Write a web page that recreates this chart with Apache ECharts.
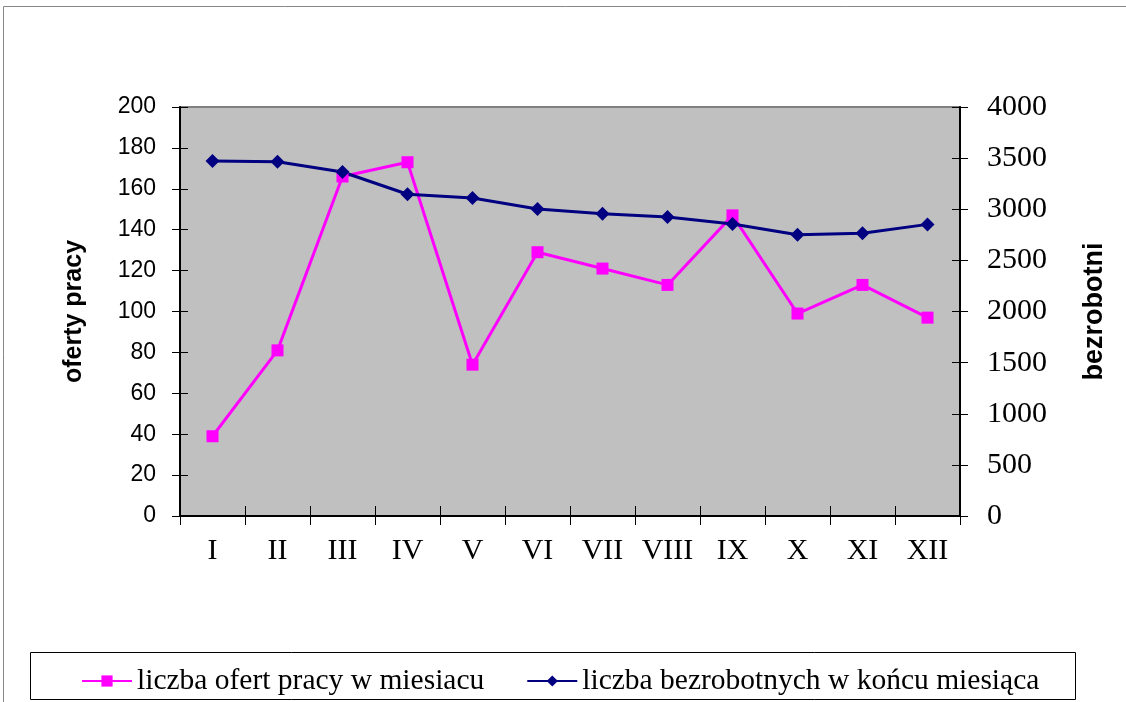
<!DOCTYPE html>
<html>
<head>
<meta charset="utf-8">
<script src="https://cdn.jsdelivr.net/npm/echarts@6/dist/echarts.min.js"></script>
<style>
html,body{margin:0;padding:0;background:#fff;}
#chart{width:1126px;height:702px;}
</style>
</head>
<body>
<div id="chart"></div>
<script>
const categories = ['I','II','III','IV','V','VI','VII','VIII','IX','X','XI','XII'];
const ofertyPracy = [39, 81, 166, 173, 74, 129, 121, 113, 147, 99, 113, 97];
const bezrobotni = [3472, 3465, 3364, 3147, 3110, 3002, 2955, 2924, 2856, 2750, 2765, 2852];
const leftTicks = {min: 0, max: 200, interval: 20};
const rightTicks = {min: 0, max: 4000, interval: 500};
const seriesNames = ['liczba ofert pracy w miesiacu', 'liczba bezrobotnych w końcu miesiąca'];
const axisNames = ['oferty pracy', 'bezrobotni'];

const chart = echarts.init(document.getElementById('chart'));
const serif = '"Liberation Serif","Times New Roman",serif';
const sans = '"Liberation Sans",Arial,sans-serif';

const tickStyle = {color: '#000', width: 1};
function dupY(pos, t) {
  return {
    type: 'value', position: pos, min: t.min, max: t.max, interval: t.interval,
    axisLine: {show: false}, axisLabel: {show: false}, splitLine: {show: false},
    axisTick: {show: true, inside: true, length: 8, lineStyle: tickStyle}
  };
}

chart.setOption({
  animation: false,
  backgroundColor: '#fff',
  graphic: [
    {type: 'rect', shape: {x: 3.5, y: 6.5, width: 1140, height: 720}, style: {fill: 'none', stroke: '#888', lineWidth: 1}, silent: true, z: -10},
    {type: 'rect', shape: {x: 30.5, y: 652.5, width: 1045, height: 47}, style: {fill: '#fff', stroke: '#000', lineWidth: 1}, silent: true, z: -5}
  ],
  grid: {
    left: 180, right: 166, top: 107, bottom: 186,
    show: true, backgroundColor: '#C0C0C0', borderColor: '#808080', borderWidth: 2
  },
  legend: {
    left: 76, top: 661,
    itemWidth: 50, itemHeight: 14, itemGap: 42,
    textStyle: {fontFamily: serif, fontSize: 29.5, color: '#000'},
    data: seriesNames
  },
  xAxis: [
    {
      type: 'category', data: categories, position: 'bottom', boundaryGap: true,
      axisLine: {onZero: false, lineStyle: {color: '#000', width: 2}},
      axisTick: {show: true, length: 9, interval: 0, lineStyle: tickStyle},
      axisLabel: {fontFamily: serif, fontSize: 30, color: '#000', margin: 20, interval: 0},
      splitLine: {show: false}
    },
    {
      type: 'category', data: categories, position: 'bottom', boundaryGap: true,
      axisLine: {show: false, onZero: false}, axisLabel: {show: false}, splitLine: {show: false},
      axisTick: {show: true, inside: true, length: 10, interval: 0, lineStyle: tickStyle}
    }
  ],
  yAxis: [
    {
      type: 'value', position: 'left', min: leftTicks.min, max: leftTicks.max, interval: leftTicks.interval,
      name: axisNames[0], nameLocation: 'middle', nameRotate: 90, nameGap: 93,
      nameTextStyle: {fontFamily: sans, fontSize: 25, fontWeight: 'bold', color: '#000'},
      axisLine: {show: true, lineStyle: {color: '#000', width: 2}},
      axisTick: {show: true, length: 8, lineStyle: tickStyle},
      axisLabel: {fontFamily: sans, fontSize: 23, color: '#000', margin: 24},
      splitLine: {show: false}
    },
    {
      type: 'value', position: 'right', min: rightTicks.min, max: rightTicks.max, interval: rightTicks.interval,
      name: axisNames[1], nameLocation: 'middle', nameRotate: 90, nameGap: 121,
      nameTextStyle: {fontFamily: sans, fontSize: 27, fontWeight: 'bold', color: '#000'},
      axisLine: {show: true, lineStyle: {color: '#000', width: 2}},
      axisTick: {show: true, length: 8, lineStyle: tickStyle},
      axisLabel: {fontFamily: serif, fontSize: 30, color: '#000', margin: 27, formatter: v => String(v)},
      splitLine: {show: false}
    },
    dupY('left', leftTicks),
    dupY('right', rightTicks)
  ],
  series: [
    {
      name: seriesNames[0], type: 'line', data: ofertyPracy, xAxisIndex: 0, yAxisIndex: 0,
      symbol: 'rect', symbolSize: 12,
      lineStyle: {color: '#FF00FF', width: 3}, itemStyle: {color: '#FF00FF'}
    },
    {
      name: seriesNames[1], type: 'line', data: bezrobotni, xAxisIndex: 0, yAxisIndex: 1,
      symbol: 'diamond', symbolSize: 14,
      lineStyle: {color: '#000080', width: 3}, itemStyle: {color: '#000080'}
    }
  ]
});
</script>
</body>
</html>
